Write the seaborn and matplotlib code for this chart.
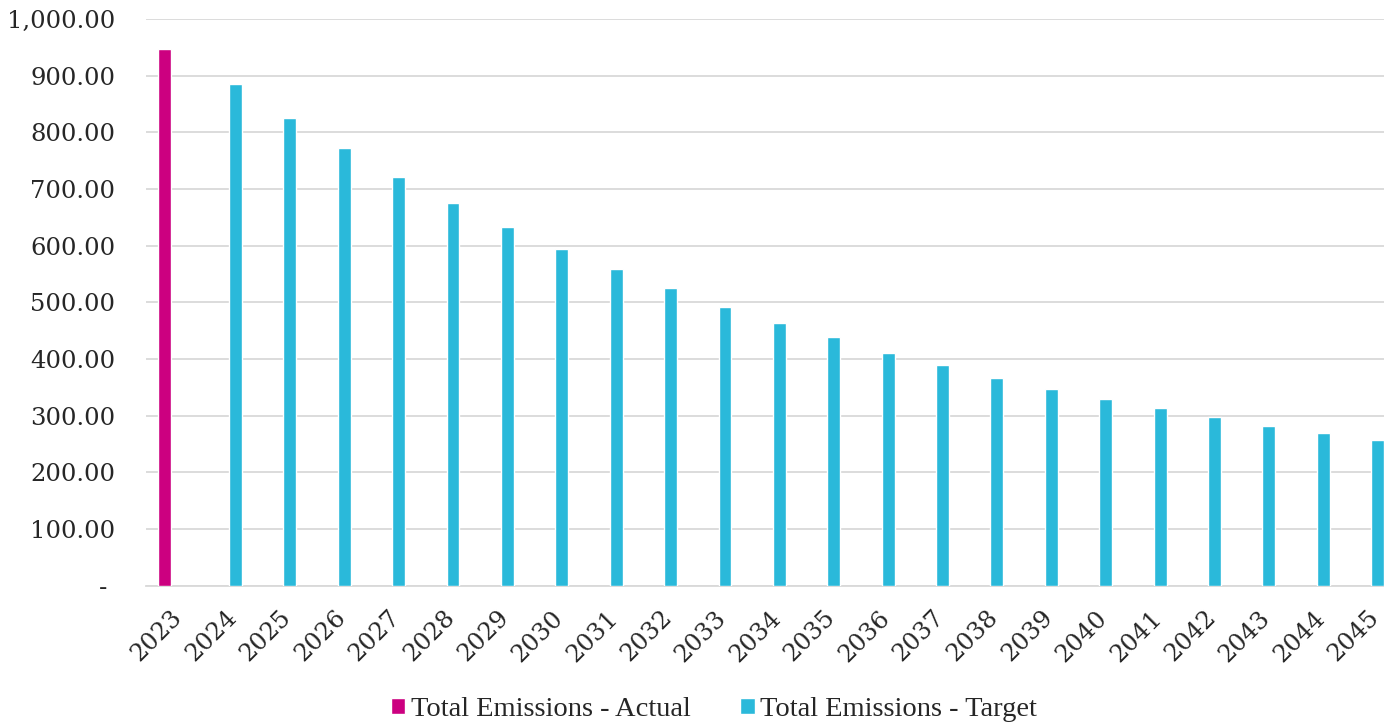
import matplotlib
matplotlib.use("Agg")
import matplotlib.pyplot as plt
import matplotlib.transforms as mtrans
import seaborn as sns
import pandas as pd
from matplotlib.ticker import FuncFormatter

# data
years = [str(y) for y in range(2023, 2046)]
actual_years = ["2023"]
actual_values = [947]
target_years = years[1:]
target_values = [885, 825, 772, 721, 675, 633, 594, 559, 525, 492, 464,
                 439, 411, 389, 367, 347, 330, 314, 298, 282, 269, 257]
series_names = ["Total Emissions - Actual", "Total Emissions - Target"]
colors = ["#CC0080", "#2AB9DA"]

df = pd.DataFrame({
    "Year": actual_years + target_years,
    "Emissions": actual_values + target_values,
    "Series": [series_names[0]] * len(actual_years) + [series_names[1]] * len(target_years),
})

sns.set_style("white")
fig = plt.figure(figsize=(13.84, 7.24), dpi=100)
ax = fig.add_axes([0.1053, 0.191, 0.904, 0.7828])

sns.barplot(data=df, x="Year", y="Emissions", hue="Series", order=years,
            hue_order=series_names, palette=colors, width=0.59, gap=0.2,
            dodge=True, errorbar=None, saturation=1, ax=ax, zorder=3)

ax.set_ylim(0, 1000)
ax.set_xlim(-0.5, 22.5)
ax.set_yticks(range(0, 1001, 100))
# accounting style: zero shown as a dash
ax.yaxis.set_major_formatter(FuncFormatter(lambda v, p: "- " if v == 0 else f"{v:,.2f}"))
ax.grid(axis="y", color="#D9D9D9", linewidth=1.3, zorder=0)
ax.set_axisbelow(True)
for s in ["top", "right", "left"]:
    ax.spines[s].set_visible(False)
ax.spines["bottom"].set_color("#D9D9D9")
ax.spines["bottom"].set_linewidth(1.3)
ax.set_xlabel("")
ax.set_ylabel("")
ax.tick_params(axis="both", length=0)
ax.tick_params(axis="y", pad=22)
ax.tick_params(axis="x", pad=14)
for lbl in ax.get_yticklabels():
    lbl.set_family("DejaVu Serif")
    lbl.set_fontsize(17.5)
# nudge rotated year labels right/down like the original
shift = mtrans.ScaledTranslation(0.06, -0.09, fig.dpi_scale_trans)
for lbl in ax.get_xticklabels():
    lbl.set_family("DejaVu Serif")
    lbl.set_fontsize(17.5)
    lbl.set_rotation(45)
    lbl.set_ha("right")
    lbl.set_va("center")
    lbl.set_rotation_mode("anchor")
    lbl.set_transform(lbl.get_transform() + shift)

handles, labels = ax.get_legend_handles_labels()
ax.get_legend().remove()
fig.legend(handles, labels, loc="lower center", bbox_to_anchor=(0.516, -0.033),
           ncol=2, frameon=False, prop={"family": "Liberation Serif", "size": 20.5},
           handlelength=0.5, handleheight=0.5, handletextpad=0.2,
           columnspacing=1.75)

fig.savefig("out.png", dpi=100)
